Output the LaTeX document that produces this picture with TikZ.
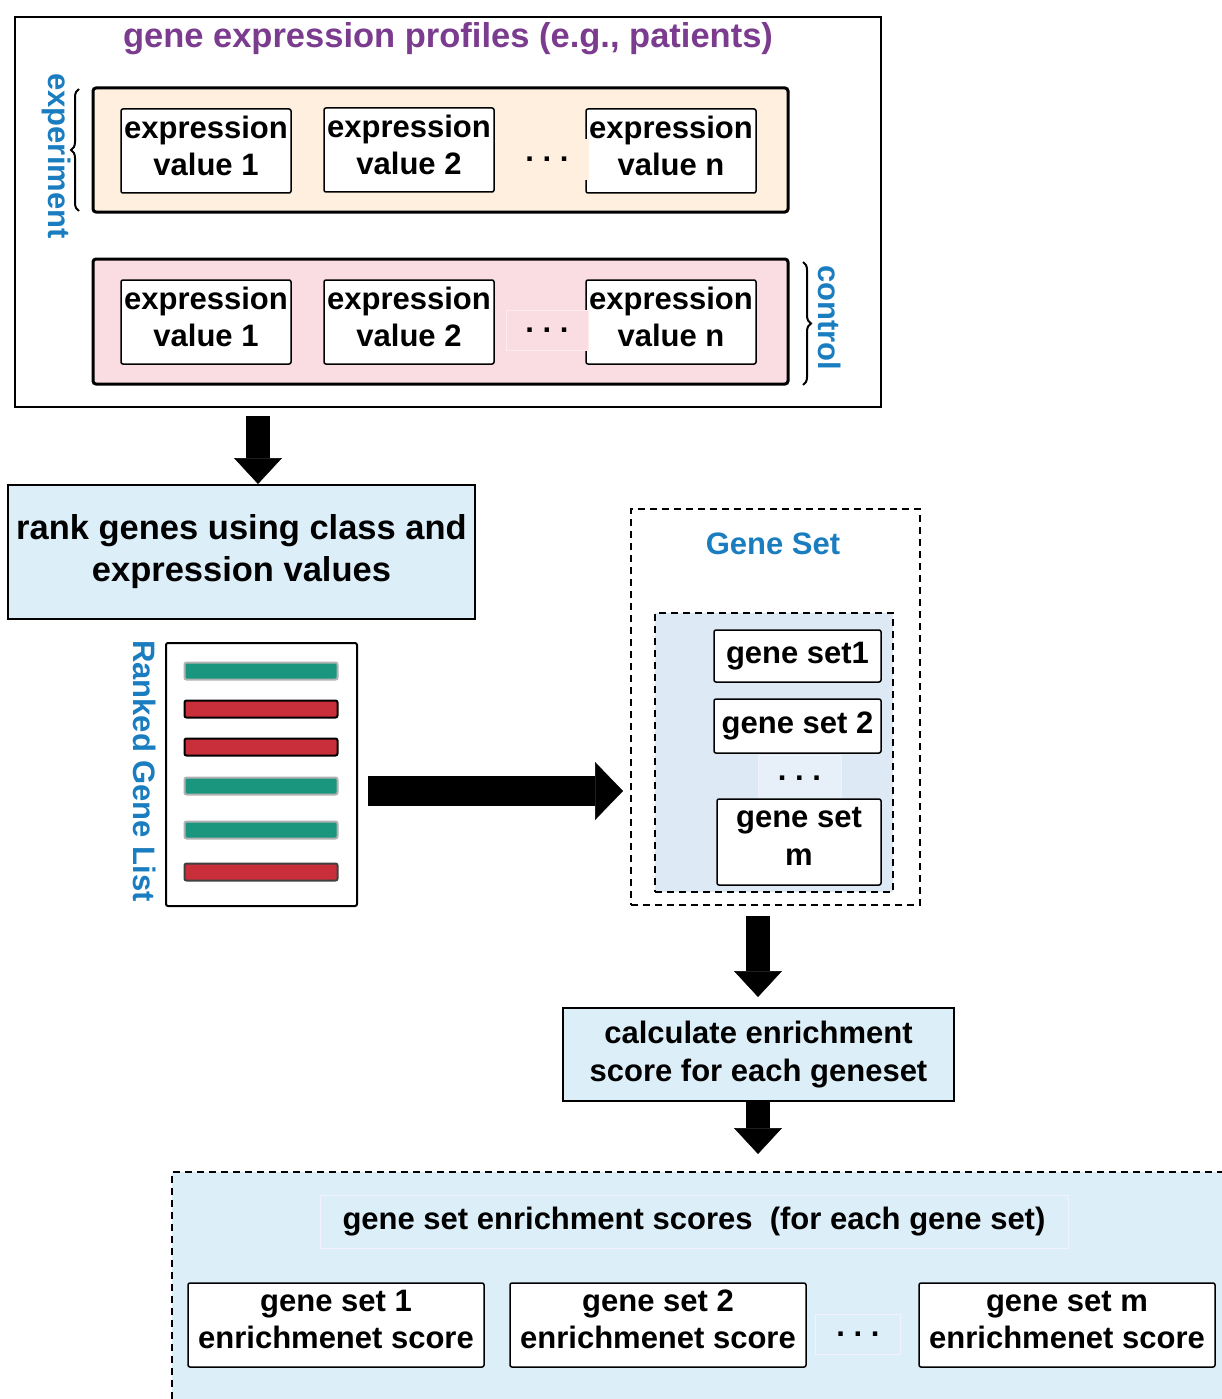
\documentclass[tikz,border=0pt]{standalone}
\usepackage{fontspec}
\setmainfont{Liberation Sans}
\usetikzlibrary{arrows.meta,decorations.pathreplacing}
\definecolor{peach}{HTML}{FEEFDF}
\definecolor{pinkbg}{HTML}{F9DDE3}
\definecolor{lightblue}{HTML}{DCEEF8}
\definecolor{setblue}{HTML}{DDEAF6}
\definecolor{labelblue}{HTML}{1A7DC0}
\definecolor{titlepurple}{HTML}{7B3B8E}
\definecolor{bargreen}{HTML}{1A967E}
\definecolor{barred}{HTML}{C92E3B}
\begin{document}
\begin{tikzpicture}[x=1pt,y=-1pt,
  every node/.style={font=\fontsize{31}{37}\selectfont\bfseries, inner sep=0pt},
  box/.style={draw, line width=1.5pt, rounded corners=2pt, fill=white, align=center,
    execute at begin node=\strut, execute at end node=\strut},
  group/.style={draw, line width=3pt, rounded corners=3pt},
  faint/.style={draw=#1, line width=0.6pt},
  dashbox/.style={draw, line width=2pt, dash pattern=on 7pt off 5pt},
  bluebox/.style={draw, line width=2pt, fill=lightblue, align=center},
  gbar/.style={draw=black!30, line width=2pt, fill=bargreen, rounded corners=2pt, minimum width=153pt, minimum height=17pt},
  rbar/.style={draw=black, line width=2pt, fill=barred, rounded corners=2pt, minimum width=153pt, minimum height=17pt},
  bracestyle/.style={draw, line width=2pt, decorate, decoration={brace, amplitude=8pt}},
  fat/.style={line width=24pt, -{Triangle[width=48pt,length=26pt,line width=0.5pt]}},
  fatter/.style={line width=30pt, -{Triangle[width=58pt,length=28pt,line width=0.5pt]}},
  lbl/.style={text=labelblue, rotate=-90}
]
\useasboundingbox (0,0) rectangle (1222,1399);

% ---------- profiles ----------
\node[draw, line width=1.5pt, minimum width=866pt, minimum height=390pt] (profiles) at (448,212) {};
\node[text=titlepurple, font=\fontsize{34.5}{40}\selectfont\bfseries] (title) at (448,39) {gene expression profiles (e.g., patients)};

\node[group, fill=peach, minimum width=695pt, minimum height=124pt] (exp) at (440.5,150) {};
\node[box, minimum width=170pt, minimum height=84pt] (e1) at (206,151) {expression\\value 1};
\node[box, minimum width=170pt, minimum height=84pt] (e2) at (409,150) {expression\\value 2};
\node[box, minimum width=170pt, minimum height=84pt] (en) at (671,151) {expression\\value n};
\node[faint=orange!12, fill=peach, minimum width=82pt, minimum height=40pt] (edots) at (547,159) {.\ .\ .};

\node[group, fill=pinkbg, minimum width=695pt, minimum height=125pt] (ctl) at (440.5,321.5) {};
\node[box, minimum width=170pt, minimum height=84pt] (c1) at (206,322) {expression\\value 1};
\node[box, minimum width=170pt, minimum height=84pt] (c2) at (409,322) {expression\\value 2};
\node[box, minimum width=170pt, minimum height=84pt] (cn) at (671,322) {expression\\value n};
\node[faint=red!8, fill=pinkbg, minimum width=82pt, minimum height=40pt] (cdots) at (547,330) {.\ .\ .};

\draw[bracestyle] (79,211) -- (79,89);
\draw[bracestyle] (803,262) -- (803,385);
\node[lbl] (explabel) at (57,156) {experiment};
\node[lbl] (ctllabel) at (830,318) {control};

% ---------- rank ----------
\node[bluebox, minimum width=467pt, minimum height=134pt, font=\fontsize{34.5}{42}\selectfont\bfseries] (rank) at (241.5,552) {rank genes using class and\\expression values};
\coordinate (a1) at (258,0);
\draw[fat, shorten <=8pt] (profiles.south -| a1) -- (rank.north -| a1);

\node[lbl] (rgl) at (145,771) {Ranked Gene List};
\node[draw, line width=2pt, rounded corners=2pt, fill=white, minimum width=191pt, minimum height=263pt] (list) at (261.5,774.5) {};
\node[gbar] (b1) at (261,671) {};
\node[rbar] (b2) at (261,709) {};
\node[rbar] (b3) at (261,747) {};
\node[gbar] (b4) at (261,786) {};
\node[gbar] (b5) at (261,830) {};
\node[rbar, draw=black!75] (b6) at (261,872) {};

% ---------- gene sets ----------
\node[dashbox, fill=white, minimum width=289pt, minimum height=396pt] (geneset) at (775.5,707) {};
\node[text=labelblue] (gstitle) at (773,544) {Gene Set};
\node[dashbox, fill=setblue, minimum width=238pt, minimum height=279pt] (gsinner) at (774,752.5) {};
\node[box, minimum width=167pt, minimum height=52pt] (gs1) at (797.5,656) {gene set1};
\node[box, minimum width=167pt, minimum height=54pt] (gs2) at (797.5,726) {gene set 2};
\node[faint=blue!6, fill=setblue!70!white, minimum width=83pt, minimum height=45pt] (gsdots) at (799.5,778) {.\ .\ .};
\node[box, minimum width=164pt, minimum height=86pt, font=\fontsize{31}{38}\selectfont\bfseries] (gsm) at (799,842) {gene set\\m};

\coordinate (a2) at (0,791);
\draw[fatter, shorten <=10pt, shorten >=7pt] (list.east |- a2) -- (geneset.west |- a2);

% ---------- calculate ----------
\node[bluebox, minimum width=391pt, minimum height=93pt, font=\fontsize{31}{38}\selectfont\bfseries] (calc) at (758.5,1054.5) {calculate enrichment\\score for each geneset};
\coordinate (a3) at (758,0);
\draw[fat, shorten <=10pt, shorten >=10pt] (geneset.south -| a3) -- (calc.north -| a3);

% ---------- scores ----------
\node[dashbox, fill=lightblue, minimum width=1068pt, minimum height=248pt] (scores) at (706,1296) {};
\draw[fat, shorten >=17pt] (calc.south -| a3) -- (scores.north -| a3);
\node[faint=blue!5, fill=lightblue, minimum width=748pt, minimum height=53pt] (sctitle) at (694,1221.5) {gene set enrichment scores\ \ (for each gene set)};
\node[box, minimum width=296pt, minimum height=84pt] (sc1) at (336,1325) {gene set 1\\enrichmenet score};
\node[box, minimum width=296pt, minimum height=84pt] (sc2) at (658,1325) {gene set 2\\enrichmenet score};
\node[box, minimum width=296pt, minimum height=84pt] (scm) at (1067,1325) {gene set m\\enrichmenet score};
\node[faint=blue!5, fill=lightblue, minimum width=85pt, minimum height=40pt] (scdots) at (858,1334) {.\ .\ .};
\end{tikzpicture}
\end{document}
